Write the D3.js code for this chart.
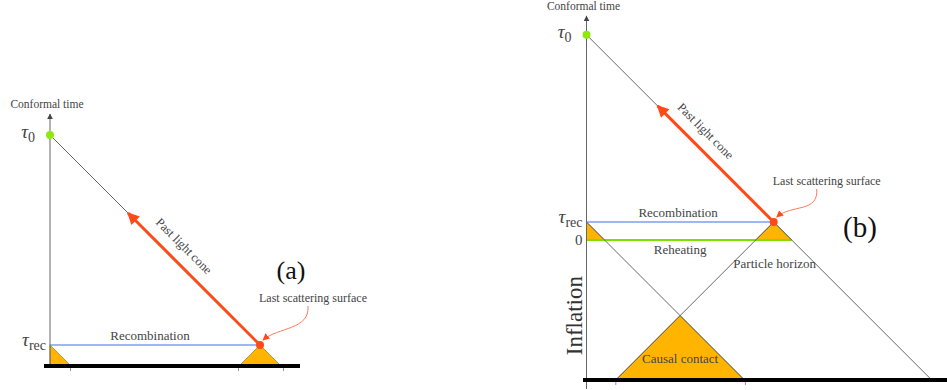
<!DOCTYPE html>
<html><head><meta charset="utf-8">
<script src="https://cdn.jsdelivr.net/npm/d3@7"></script>
<style>
body{margin:0;background:#fff}
svg{display:block}
</style>
</head><body><svg id="chart" width="947" height="390"></svg>
<script>
// Conformal diagrams: (a) standard hot Big Bang, (b) with an inflationary era.
// Conformal time and comoving distance share one unit, so light rays run at 45°.
const panelNames   = ["(a)", "(b)"];
const tauNow       = [11.5, 11.4];   // observer today, τ0
const tauRec       = [1, 1];         // recombination
const tauReheat    = [null, 0];      // end of inflation / reheating
const tauBegin     = [0, -7.8];      // bottom edge of each diagram
const lssDistance  = [10.5, 10.4];   // comoving distance to the last scattering surface
const arrowTipTau  = [7.6, 7.45];    // where the past-light-cone arrow ends
const baseTicks    = [[1, 9.4, 11.65], [1.6, 8.8]];

const SERIF = "'Liberation Serif', 'Times New Roman', Times, serif";
const COL = {
  orange: "#ffb400", red: "#ff4a17", blue: "#7f9cf5", green: "#7ee000",
  dot: "#8fea0c", line: "#555", text: "#444"
};

const svg = d3.select("#chart").attr("font-family", SERIF);
const defs = svg.append("defs");
function marker(id, color, w, h) {
  defs.append("marker").attr("id", id).attr("viewBox", "0 0 10 10")
    .attr("refX", 9).attr("refY", 5).attr("markerUnits", "userSpaceOnUse")
    .attr("markerWidth", w).attr("markerHeight", h).attr("orient", "auto")
    .append("path").attr("d", "M0,0 L10,5 L0,10 Z").attr("fill", color);
}
marker("axisHead", "#444", 6, 6);
marker("lcHead", COL.red, 14, 12);
marker("noteHead", COL.red, 7, 7);

// pixel frame of each panel: origin of (distance 0, τ 0), pixels per unit, axis ends, baseline span
const layout = [
  { x0: 50,  y0: 365, unit: 20, axisTop: 114, axisBottom: 366, baseFrom: 44,  baseTo: 300, baseY: 366 },
  { x0: 586.5, y0: 240, unit: 18, axisTop: 16,  axisBottom: 389, baseFrom: 583, baseTo: 947, baseY: 380 }
];

function label(g, txt, x, y, size, anchor) {
  return g.append("text").attr("x", x).attr("y", y)
    .attr("text-anchor", anchor || "middle").attr("font-size", size)
    .style("font-family", SERIF).style("fill", COL.text).text(txt);
}

function drawPanel(i) {
  const L = layout[i];
  const x = d3.scaleLinear().domain([0, 1]).range([L.x0, L.x0 + L.unit]);
  const y = d3.scaleLinear().domain([0, 1]).range([L.y0, L.y0 - L.unit]);
  const g = svg.append("g");
  const D = lssDistance[i], tr = tauRec[i], t0 = tauNow[i], tb = tauBegin[i];
  const bottomTau = tauReheat[i] === null ? tb : tauReheat[i];
  const line = d3.line().x(d => x(d[0])).y(d => y(d[1]));

  // filled light-cone regions
  const tris = [
    [[0, tr], [0, bottomTau], [tr - bottomTau, bottomTau]],
    [[D, tr], [D - (tr - bottomTau), bottomTau], [D + (tr - bottomTau), bottomTau]]
  ];
  if (i === 1) {
    const tc = tr - D / 2, xc = D / 2, hw = tc - tb;
    tris.push([[xc, tc], [xc - hw, tb], [xc + hw, tb]]);
  }
  g.selectAll("path.tri").data(tris).join("path").attr("class", "tri")
    .attr("d", d => line(d) + "Z").attr("fill", COL.orange)
    .attr("stroke", "#8a6a20").attr("stroke-width", 0.6);

  // horizontal lines: recombination and reheating
  g.append("path").attr("d", line([[0, tr], [D, tr]]))
    .attr("stroke", COL.blue).attr("stroke-width", 1.6).attr("fill", "none");
  if (i === 1) {
    g.append("path").attr("d", line([[0, 0], [D + tr, 0]]))
      .attr("stroke", COL.green).attr("stroke-width", 2).attr("fill", "none");
    // light rays through the inflationary era
    const drop = tr - tb;
    [[[0, tr], [drop, tb]], [[D, tr], [D - drop, tb]], [[D, tr], [D + drop, tb]]]
      .forEach(s => g.append("path").attr("d", line(s))
        .attr("stroke", COL.line).attr("stroke-width", 0.9).attr("fill", "none"));
  }

  // past light cone of the observer
  g.append("path").attr("d", line([[0, t0], [D, tr]]))
    .attr("stroke", COL.line).attr("stroke-width", 0.9).attr("fill", "none");
  const ta = arrowTipTau[i];
  g.append("path").attr("d", line([[D, tr], [D - (ta - tr), ta]]))
    .attr("stroke", COL.red).attr("stroke-width", 3).attr("fill", "none")
    .attr("marker-end", "url(#lcHead)");

  // conformal time axis
  g.append("line").attr("x1", x(0)).attr("x2", x(0))
    .attr("y1", L.axisBottom).attr("y2", L.axisTop)
    .attr("stroke", "#666").attr("stroke-width", 1).attr("marker-end", "url(#axisHead)");
  label(g, "Conformal time", x(0) - 3, L.axisTop - 6, 11.5);

  // baseline with small ticks
  const ax = g.append("g").attr("transform", `translate(0,${L.baseY})`)
    .call(d3.axisBottom(x).tickValues(baseTicks[i]).tickSize(5).tickFormat(""));
  ax.select(".domain").remove();
  ax.selectAll(".tick line").attr("stroke", "#777").attr("stroke-width", 0.8);
  g.append("line").attr("x1", L.baseFrom).attr("x2", L.baseTo)
    .attr("y1", L.baseY).attr("y2", L.baseY).attr("stroke", "#000").attr("stroke-width", 4);

  // observer and last scattering point
  g.append("circle").attr("cx", x(0)).attr("cy", y(t0)).attr("r", 4).attr("fill", COL.dot);
  g.append("circle").attr("cx", x(D)).attr("cy", y(tr)).attr("r", 4).attr("fill", COL.red);

  // τ labels on the axis
  const tau0 = label(g, "", x(0) - 15, y(t0) + 3, 19, "end");
  tau0.append("tspan").attr("font-style", "italic").text("τ");
  tau0.append("tspan").attr("font-size", 14).attr("dy", 4).text("0");
  const taur = label(g, "", x(0) - 4, y(tr) + 1, 19, "end");
  taur.append("tspan").attr("font-style", "italic").text("τ");
  taur.append("tspan").attr("font-size", 14).attr("dy", 4).text("rec");
  if (i === 1) label(g, "0", x(0) - 4, y(0) + 5, 15, "end");

  // annotations
  label(g, "Recombination", x(D / 2) - (i ? 2 : 5), y(tr) - 5, 13);
  const lc = [(D + D - (ta - tr)) / 2, (tr + ta) / 2];
  label(g, "Past light cone", 0, 0, 12.5)
    .attr("transform", `translate(${x(lc[0]) - 13},${y(lc[1]) - 30}) rotate(45)`);

  const px = x(D), py = y(tr);
  const sx = px + (i ? 43 : 48), sy = py - (i ? 33 : 39);
  label(g, "Last scattering surface", sx + (i ? 10 : 5), sy - 4, 12);
  g.append("path")
    .attr("d", `M${sx},${sy} C${sx + 2},${sy + 24} ${px + 18},${py - 18} ${px + 3},${py - 5}`)
    .attr("stroke", "#ff7a5c").attr("stroke-width", 1).attr("fill", "none")
    .attr("marker-end", "url(#noteHead)");

  label(g, panelNames[i], i ? 860 : 291, i ? 237 : 279, i ? 29 : 26).style("fill", "#111");

  if (i === 1) {
    label(g, "Reheating", x(D / 2), y(0) + 14, 13);
    label(g, "Particle horizon", x(D) + 1, y(tr) + 46, 13);
    label(g, "Causal contact", x(D / 2), y(tb) - 17, 13);
    label(g, "Inflation", 0, 0, 23).style("fill", "#333")
      .attr("transform", `translate(${x(0) - 5},${y(-4.2)}) rotate(-90)`);
  }
}

drawPanel(0);
drawPanel(1);
</script>
</body></html>
